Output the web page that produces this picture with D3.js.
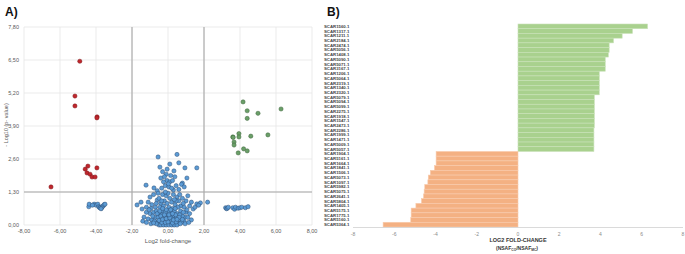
<!DOCTYPE html>
<html>
<head>
<meta charset="utf-8">
<script src="https://cdn.jsdelivr.net/npm/d3@7"></script>
<style>
  body { margin: 0; background: #fff; }
  svg { display: block; font-family: "Liberation Sans", Arial, sans-serif; }
</style>
</head>
<body>
<div id="chart"></div>
<script>
// ---- Panel A: volcano plot data [log2 fold-change, -log10 p] ----
const downPoints = [[-4.9,6.45],[-5.17,5.08],[-5.17,4.69],[-3.94,4.26],[-3.95,4.22],[-4.6,2.2],[-4.45,2.32],
  [-4.5,2.05],[-4.33,2.0],[-4.22,1.89],[-4.05,1.89],[-3.95,2.25],[-6.5,1.5]];
const upPoints = [[4.17,4.85],[4.4,4.5],[4.4,4.2],[5.0,4.4],[6.28,4.57],[3.6,3.47],[3.62,3.45],[3.94,3.6],
  [3.94,3.47],[3.67,3.27],[3.67,3.15],[4.6,3.5],[5.55,3.55],[4.2,3.0],[4.4,2.92],[3.9,2.84]];
const nsPoints = [
  // upper scatter
  [-0.55,2.68],[0.5,2.78],[-0.45,2.28],[-0.3,2.1],[-0.1,2.0],[0.33,2.13],[0.6,2.45],[0.94,2.25],[1.6,2.25],
  [1.05,1.85],[0.8,1.65],[0.75,1.6],[0.3,1.38],[-1.22,1.57],[-0.78,1.46],[-0.2,1.9],[-0.05,1.75],[0.1,1.7],
  [-0.15,1.55],[0.05,1.5],[0.2,1.45],[-0.35,1.45],[0.45,1.55],[0.6,1.4],[-0.6,1.35],[0.1,2.4],[-0.05,2.2],
  [0.15,1.95],[0.02,1.62],[0.25,1.75],[-0.25,1.7],[0.9,1.5],[0.38,1.9],[-0.4,1.85],
  // middle band
  [-1.72,0.79],[-1.44,0.63],[-0.6,0.98],[1.6,0.83],[2.2,0.9],[1.8,0.87],[1.4,0.63],[1.2,0.75],[1.0,0.95],
  [-1.0,1.1],[-0.9,0.8],[-0.8,1.2],[-0.7,0.7],[-0.5,1.05],[-0.4,0.85],[-0.3,1.2],[-0.2,0.95],[-0.1,1.15],
  [0,1.25],[0.1,1.05],[0.2,0.9],[0.3,1.2],[0.4,0.8],[0.5,1.1],[0.6,0.95],[0.7,0.75],[0.8,1.05],[0.9,0.7],
  [1.1,1.15],[1.3,0.9],[-1.2,0.7],[-1.1,0.9],[-0.95,0.65],[-0.65,0.85],[-0.45,0.7],[-0.25,0.75],[-0.05,0.85],
  [0.05,0.7],[0.25,0.65],[0.45,0.95],[0.55,0.7],[0.65,1.2],[0.85,0.85],[-0.15,1.3],[0.35,1.0],[-0.55,1.25],
  [-0.35,0.95],[1.5,0.7],[1.7,0.78],[-1.5,0.9],
  // lower band
  [-1.33,0.31],[-1.1,0.24],[0.94,0.31],[-1.0,0.45],[-0.9,0.2],[-0.8,0.5],[-0.7,0.3],[-0.6,0.1],[-0.5,0.45],
  [-0.4,0.2],[-0.3,0.55],[-0.2,0.35],[-0.1,0.1],[0,0.4],[0.1,0.2],[0.2,0.5],[0.3,0.3],[0.4,0.1],[0.5,0.45],
  [0.6,0.2],[0.7,0.55],[0.8,0.35],[0.9,0.15],[1.0,0.5],[1.1,0.3],[1.2,0.45],[-1.2,0.5],[-0.85,0.35],
  [-0.65,0.55],[-0.45,0.05],[-0.35,0.4],[-0.25,0.15],[-0.15,0.5],[-0.05,0.25],[0.05,0.55],[0.15,0.05],
  [0.25,0.35],[0.35,0.55],[0.45,0.25],[0.55,0.05],[0.65,0.4],[0.75,0.1],[0.85,0.5],[-0.55,0.3],[-0.75,0.15],
  [-0.95,0.05],[0.95,0.05],[1.3,0.2],[-1.4,0.15],[-0.15,0.02],[0.15,0.3],[-0.3,0.02],[0.3,0.02],[0,0.05],
  [-0.05,0.15],[0.08,0.12],[-0.2,0.08],[0.2,0.15],[-0.4,0.35],[0.42,0.4],[-0.6,0.45],[0.62,0.3],[1.05,0.6],
  [-1.05,0.6],
  // dense base near zero
  [-0.5,0.0],[-0.4,0.0],[-0.25,0.0],[-0.1,0.0],[0.05,0.0],[0.2,0.0],[0.35,0.0],[0.5,0.0],[-0.35,0.1],
  [-0.15,0.1],[0.0,0.12],[0.25,0.08],[0.45,0.12],[-0.5,0.18],[-0.3,0.22],[-0.1,0.25],[0.1,0.28],[0.3,0.2],
  [0.5,0.22],[-0.2,0.4],[0.05,0.4],[0.25,0.45],[-0.45,0.55],[0.15,0.6],[-0.1,0.6],[0.4,0.65],[-0.3,0.65],
  [-0.65,0.05],[0.68,0.05],[-0.8,0.08],[0.8,0.22],[1.15,0.1],[-1.2,0.1],
  // clusters near +-4
  [-4.4,0.72],[-4.38,0.82],[-4.1,0.82],[-4.0,0.78],[-3.9,0.82],[-3.85,0.72],[-3.8,0.68],[-3.75,0.7],
  [-3.7,0.66],[-3.65,0.72],[-3.6,0.75],[-3.55,0.8],[-3.5,0.82],[-4.2,0.78],[-3.72,0.64],
  [3.2,0.68],[3.25,0.64],[3.3,0.66],[3.35,0.7],[3.6,0.68],[3.7,0.62],[3.75,0.7],[3.9,0.66],[4.0,0.68],
  [4.1,0.7],[4.3,0.68],[4.45,0.72]
];
const volcanoXTicks = [-8, -6, -4, -2, 0, 2, 4, 6, 8];
const volcanoYTicks = [0, 1.3, 2.6, 3.9, 5.2, 6.5, 7.8];

// ---- Panel B: fold-change bars ----
const proteins = ['SCAR1560.1','SCAR1317.1','SCAR1211.1','SCAR2184.1','SCAR2474.1','SCAR5056.1','SCAR1408.1',
  'SCAR5090.1','SCAR5071.1','SCAR3167.1','SCAR1206.1','SCAR5064.1','SCAR2319.1','SCAR1340.1','SCAR2320.1',
  'SCAR5079.1','SCAR5094.1','SCAR5099.1','SCAR2275.1','SCAR1918.1','SCAR1547.1','SCAR2473.1','SCAR2286.1',
  'SCAR1999.1','SCAR1471.1','SCAR5009.1','SCAR5057.1','SCAR1904.1','SCAR5161.1','SCAR1664.1','SCAR1841.1',
  'SCAR1506.1','SCAR5073.1','SCAR1097.1','SCAR5982.1','SCAR5075.1','SCAR2641.1','SCAR5804.1','SCAR1405.1',
  'SCAR5175.1','SCAR1775.1','SCAR5160.1','SCAR5364.1'];
const foldChange = [6.28,5.55,5.05,4.63,4.42,4.42,4.38,4.23,4.23,4.23,3.94,3.94,3.94,3.94,3.94,
  3.7,3.7,3.7,3.7,3.7,3.7,3.7,3.68,3.68,3.68,3.68,3.68,
  -3.97,-3.97,-3.97,-4.05,-4.25,-4.35,-4.37,-4.52,-4.55,-4.58,-4.68,-4.95,-5.18,-5.18,-5.2,-6.54];
const barTicks = [-8, -6, -4, -2, 0, 2, 4, 6, 8];

const svg = d3.select('#chart').append('svg')
  .attr('width', 685)
  .attr('height', 254);

// ================= Panel A =================
const fmt = v => v.toFixed(2).replace('.', ',');
const x = d3.scaleLinear().domain([-8, 8]).range([24, 312]);
const y = d3.scaleLinear().domain([0, 7.8]).range([225, 27]);

svg.append('text').attr('x', 5).attr('y', 16)
  .attr('font-size', 12).attr('font-weight', 'bold').attr('fill', '#111').text('A)');

const gA = svg.append('g');

// gridlines
gA.append('g').selectAll('line').data(volcanoYTicks).join('line')
  .attr('x1', x(-8)).attr('x2', x(8))
  .attr('y1', d => y(d)).attr('y2', d => y(d))
  .attr('stroke', '#e6e6e6').attr('stroke-width', 0.8);
gA.append('g').selectAll('line').data(volcanoXTicks).join('line')
  .attr('x1', d => x(d)).attr('x2', d => x(d))
  .attr('y1', y(0)).attr('y2', y(7.8))
  .attr('stroke', '#e6e6e6').attr('stroke-width', 0.8);

// significance thresholds
gA.append('g').selectAll('line').data([-2, 2]).join('line')
  .attr('x1', d => x(d)).attr('x2', d => x(d))
  .attr('y1', y(0)).attr('y2', y(7.8))
  .attr('stroke', '#a8a8a8').attr('stroke-width', 1.1);
gA.append('line')
  .attr('x1', x(-8)).attr('x2', x(8))
  .attr('y1', y(1.3)).attr('y2', y(1.3))
  .attr('stroke', '#a8a8a8').attr('stroke-width', 1.1);

// tick labels
gA.append('g').selectAll('text').data(volcanoYTicks).join('text')
  .attr('x', 19).attr('y', d => y(d) + 2)
  .attr('text-anchor', 'end').attr('font-size', 5.5).attr('fill', '#595959')
  .text(fmt);
gA.append('g').selectAll('text').data(volcanoXTicks).join('text')
  .attr('x', d => x(d)).attr('y', 233)
  .attr('text-anchor', 'middle').attr('font-size', 5.5).attr('fill', '#595959')
  .text(fmt);

gA.append('text').attr('x', 168).attr('y', 243)
  .attr('text-anchor', 'middle').attr('font-size', 6).attr('fill', '#595959')
  .text('Log2 fold-change');
gA.append('text')
  .attr('transform', 'translate(8,125) rotate(-90)')
  .attr('text-anchor', 'middle').attr('font-size', 5.5).attr('fill', '#595959')
  .text('- Log10 (p- value)');

// points
function drawPoints(data, fill, stroke) {
  gA.append('g').selectAll('circle').data(data).join('circle')
    .attr('cx', d => x(d[0])).attr('cy', d => y(d[1]))
    .attr('r', 2.1)
    .attr('fill', fill).attr('stroke', stroke).attr('stroke-width', 0.5);
}
drawPoints(nsPoints, '#5b9bd5', '#2f4f75');
drawPoints(downPoints, '#c0272d', '#7a1519');
drawPoints(upPoints, '#6a9f68', '#3c633b');

// ================= Panel B =================
svg.append('text').attr('x', 327).attr('y', 16)
  .attr('font-size', 12).attr('font-weight', 'bold').attr('fill', '#111').text('B)');

const xb = d3.scaleLinear().domain([-8, 8]).range([353, 683]);
const yb = d3.scaleBand().domain(proteins).range([24, 227]).padding(0);

const gB = svg.append('g');

gB.append('g').selectAll('rect').data(proteins).join('rect')
  .attr('x', (d, i) => xb(Math.min(0, foldChange[i])))
  .attr('y', d => yb(d))
  .attr('width', (d, i) => Math.abs(xb(foldChange[i]) - xb(0)))
  .attr('height', yb.bandwidth())
  .attr('fill', (d, i) => foldChange[i] > 0 ? '#a9d18e' : '#f4b183')
  .attr('stroke', (d, i) => foldChange[i] > 0 ? '#c9e2b8' : '#f8cbad')
  .attr('stroke-width', 0.6);

// protein labels
gB.append('g').selectAll('text').data(proteins).join('text')
  .attr('x', 324).attr('y', d => yb(d) + yb.bandwidth() / 2 + 1.5)
  .attr('font-size', 4.3).attr('font-weight', 'bold').attr('fill', '#444')
  .text(d => d);

// axis
gB.append('line')
  .attr('x1', xb(-8)).attr('x2', xb(8))
  .attr('y1', 227.5).attr('y2', 227.5)
  .attr('stroke', '#d0d0d0').attr('stroke-width', 0.8);
gB.append('g').selectAll('text').data(barTicks).join('text')
  .attr('x', d => xb(d)).attr('y', 236)
  .attr('text-anchor', 'middle').attr('font-size', 5).attr('fill', '#8a8a8a')
  .text(d => d < 0 ? '-' + Math.abs(d) : String(d));

const title = gB.append('text').attr('x', xb(0)).attr('y', 242)
  .attr('text-anchor', 'middle').attr('font-size', 5.5).attr('font-weight', 'bold').attr('fill', '#333');
title.append('tspan').text('LOG2 FOLD-CHANGE');

const sub = gB.append('text').attr('x', xb(0) - 1).attr('y', 250)
  .attr('text-anchor', 'middle').attr('font-size', 5).attr('font-weight', 'bold').attr('fill', '#333');
sub.append('tspan').text('(NSAF');
sub.append('tspan').attr('font-size', 3.3).attr('dy', 1.2).text('CO');
sub.append('tspan').attr('dy', -1.2).text('/NSAF');
sub.append('tspan').attr('font-size', 3.3).attr('dy', 1.2).text('MC');
sub.append('tspan').attr('dy', -1.2).text(')');
</script>
</body>
</html>
